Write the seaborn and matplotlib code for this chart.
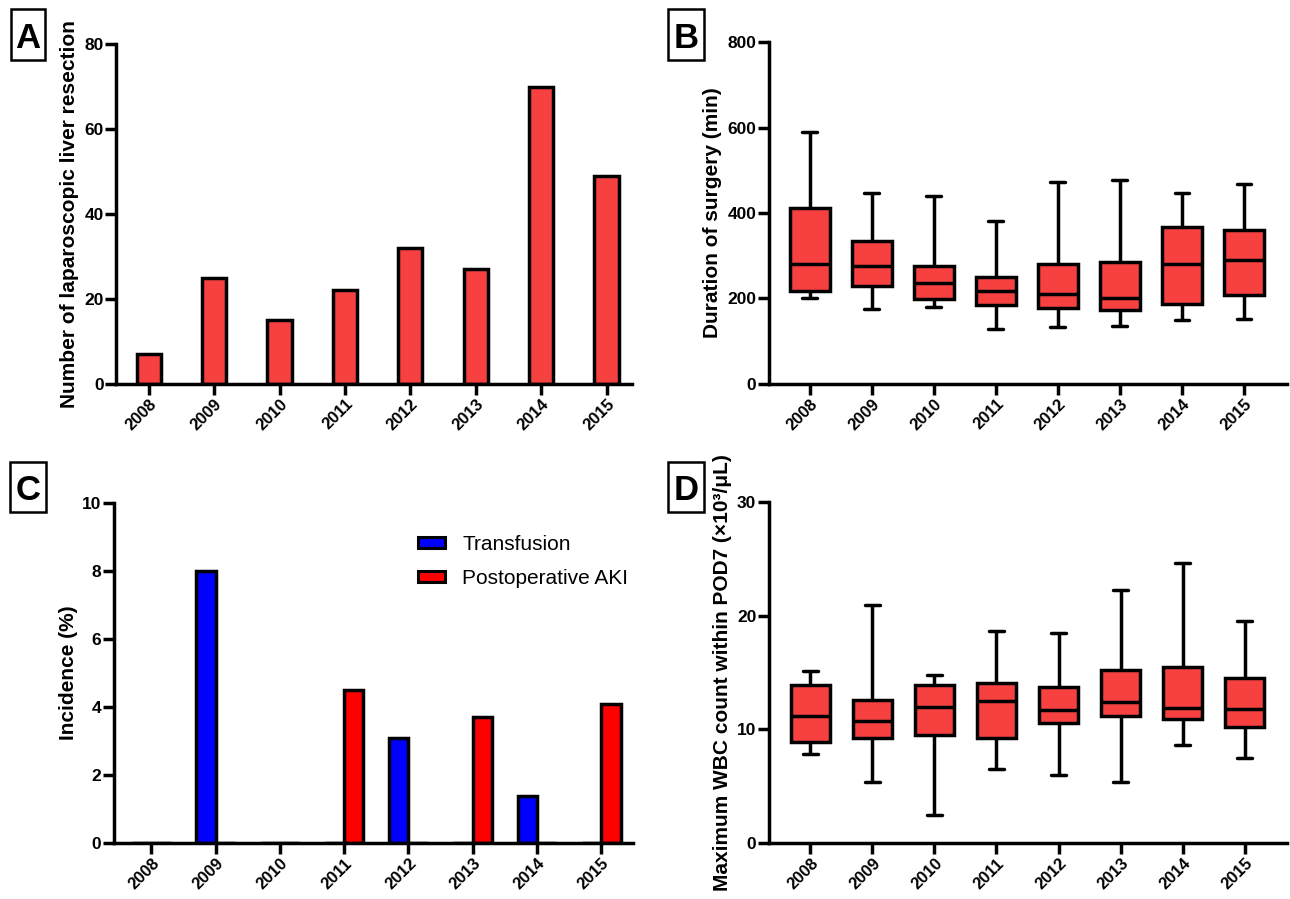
import numpy as np
import pandas as pd
import matplotlib
matplotlib.use('Agg')
import matplotlib.pyplot as plt
import matplotlib.patches as mpatches
import seaborn as sns

# Годы
years = ['2008', '2009', '2010', '2011', '2012', '2013', '2014', '2015']

# A: число лапароскопических резекций
n_resection = [7, 25, 15, 22, 32, 27, 70, 49]

# B: длительность операции (min, Q1, медиана, Q3, max)
dur_min = [200, 176, 181, 128, 134, 136, 150, 152]
dur_q1 = [218, 229, 199, 185, 177, 174, 187, 207]
dur_med = [280, 275, 237, 217, 210, 200, 280, 291]
dur_q3 = [411, 334, 277, 251, 281, 286, 367, 360]
dur_max = [590, 447, 440, 382, 472, 478, 448, 469]

# C: частота (%)
transfusion = [0, 8.0, 0, 0, 3.1, 0, 1.4, 0]
aki = [0, 0, 0, 4.5, 0, 3.7, 0, 4.1]

# D: максимальный WBC в течение POD7
wbc_min = [7.8, 5.4, 2.5, 6.5, 6.0, 5.4, 8.6, 7.5]
wbc_q1 = [8.85, 9.2, 9.5, 9.2, 10.6, 11.2, 10.9, 10.2]
wbc_med = [11.2, 10.7, 12.0, 12.5, 11.7, 12.4, 11.9, 11.8]
wbc_q3 = [13.9, 12.6, 13.9, 14.1, 13.7, 15.2, 15.5, 14.5]
wbc_max = [15.1, 20.9, 14.8, 18.6, 18.5, 22.2, 24.6, 19.5]

RED = '#F74141'
LW = 2.5
FONT = ['Liberation Sans', 'DejaVu Sans']

sns.set_style('ticks')
plt.rcParams['font.family'] = FONT
plt.rcParams.update({'text.color': 'black', 'axes.labelcolor': 'black',
                     'xtick.color': 'black', 'ytick.color': 'black'})

W, H = 1290, 899


def five_num(lo, q1, med, q3, hi):
    # 5 точек -> квартили совпадают точно при линейной интерполяции
    rows = []
    for i, y in enumerate(years):
        for v in (lo[i], q1[i], med[i], q3[i], hi[i]):
            rows.append({'year': y, 'value': v})
    return pd.DataFrame(rows)


def style_axes(ax, ylabel, ylim, yticks, xlim, label_x):
    sns.despine(ax=ax)
    for s in ('left', 'bottom'):
        ax.spines[s].set_linewidth(LW)
        ax.spines[s].set_color('black')
    ax.set_ylim(*ylim)
    ax.set_xlim(*xlim)
    ax.tick_params(direction='out', length=8, width=LW, colors='black', pad=1)
    ax.set_yticks(yticks)
    ax.set_yticklabels([str(t) for t in yticks], fontsize=12.5, fontweight='bold')
    ax.set_xticks(range(len(years)))
    ax.set_xticklabels(years, rotation=45, ha='right', rotation_mode='anchor',
                       fontsize=12, fontweight='bold')
    ax.set_xlabel('')
    ax.set_ylabel(ylabel, fontsize=15, fontweight='bold')
    ax.yaxis.set_label_coords(label_x, 0.5)


def panel_letter(fig, x0, y0, w, h, letter):
    # рамка и буква в пикселях от верхнего левого угла
    fig.patches.append(mpatches.Rectangle((x0 / W, 1 - (y0 + h) / H), w / W, h / H,
                                          transform=fig.transFigure, fc='white',
                                          ec='black', lw=1.8))
    fig.text((x0 + w / 2) / W, 1 - (y0 + h / 2) / H, letter, fontsize=25,
             fontweight='bold', ha='center', va='center_baseline')


fig = plt.figure(figsize=(12.9, 8.99), dpi=100)
axA = fig.add_axes([0.090, 0.573, 0.400, 0.378])
axB = fig.add_axes([0.596, 0.573, 0.402, 0.380])
axC = fig.add_axes([0.088, 0.062, 0.403, 0.379])
axD = fig.add_axes([0.596, 0.062, 0.402, 0.380])

# A
dfA = pd.DataFrame({'year': years, 'n': n_resection})
sns.barplot(data=dfA, x='year', y='n', order=years, color=RED, width=0.37,
            edgecolor='black', linewidth=LW, saturation=1, ax=axA)
style_axes(axA, 'Number of laparoscopic liver resection', (0, 80),
           [0, 20, 40, 60, 80], (-0.5, 7.39), -0.072)

# B
dfB = five_num(dur_min, dur_q1, dur_med, dur_q3, dur_max)
sns.boxplot(data=dfB, x='year', y='value', order=years, whis=(0, 100), width=0.64,
            color=RED, saturation=1, linecolor='black', linewidth=LW,
            showfliers=False, capwidths=0.24, ax=axB)
style_axes(axB, 'Duration of surgery (min)', (0, 800),
           [0, 200, 400, 600, 800], (-0.66, 7.7), -0.09)

# C
dfC = pd.DataFrame({
    'year': years * 2,
    'value': transfusion + aki,
    'group': ['Transfusion'] * len(years) + ['Postoperative AKI'] * len(years),
})
sns.barplot(data=dfC, x='year', y='value', hue='group', order=years,
            hue_order=['Transfusion', 'Postoperative AKI'],
            palette={'Transfusion': '#0000FF', 'Postoperative AKI': '#FF0000'},
            width=0.6, edgecolor='black', linewidth=LW, saturation=1, ax=axC)
style_axes(axC, 'Incidence (%)', (0, 10), [0, 2, 4, 6, 8, 10], (-0.59, 7.5), -0.069)
handles = [mpatches.Patch(fc='#0000FF', ec='black', lw=2.2),
           mpatches.Patch(fc='#FF0000', ec='black', lw=2.2)]
axC.legend(handles, ['Transfusion', 'Postoperative AKI'], loc='upper left',
           bbox_to_anchor=(0.585, 0.905), frameon=False, borderaxespad=0, borderpad=0,
           handlelength=1.3, handleheight=0.5, handletextpad=0.85, labelspacing=0.72,
           prop={'size': 15})

# D
dfD = five_num(wbc_min, wbc_q1, wbc_med, wbc_q3, wbc_max)
sns.boxplot(data=dfD, x='year', y='value', order=years, whis=(0, 100), width=0.64,
            color=RED, saturation=1, linecolor='black', linewidth=LW,
            showfliers=False, capwidths=0.24, ax=axD)
style_axes(axD, 'Maximum WBC count within POD7 (×10³/μL)', (0, 30),
           [0, 10, 20, 30], (-0.67, 7.69), -0.071)

panel_letter(fig, 11, 9, 34, 51, 'A')
panel_letter(fig, 668, 9, 36, 51, 'B')
panel_letter(fig, 10, 462, 36, 50, 'C')
panel_letter(fig, 668, 462, 36, 50, 'D')

fig.savefig('out.png', dpi=100, facecolor='white')
